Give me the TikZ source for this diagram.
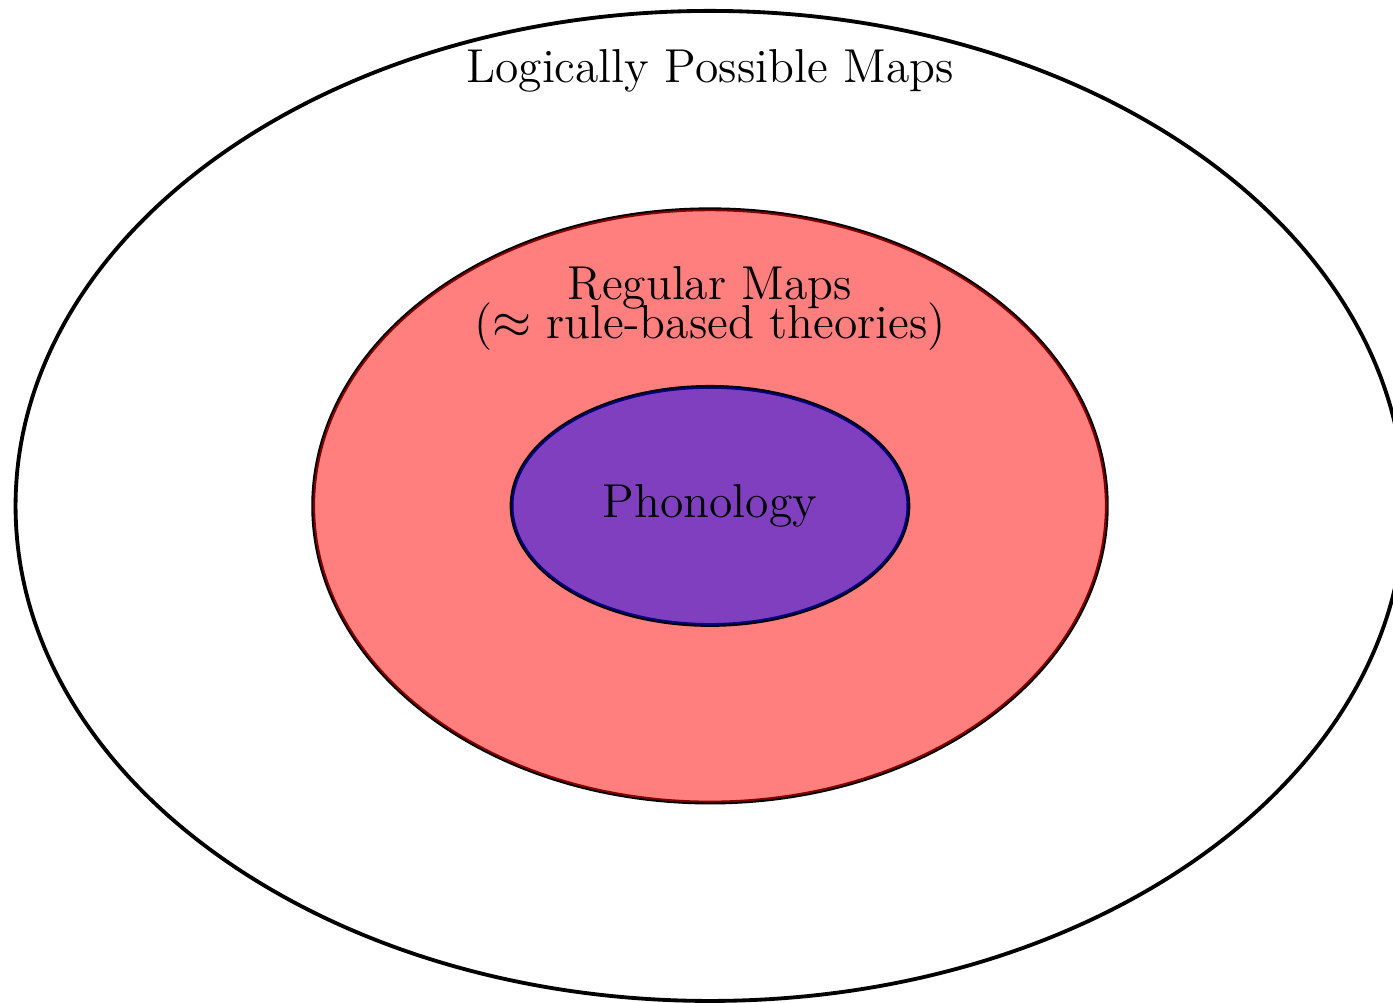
\documentclass[tikz,border=0pt]{standalone}
\begin{document}
\begin{tikzpicture}
\useasboundingbox (-7.157,-5.01) rectangle (6.885,5.10);
\tikzset{
  ring/.style={draw=black, line width=1.1pt},
  lbl/.style={font=\fontsize{13.65pt}{16pt}\selectfont, anchor=base, inner sep=0pt}
}
\draw[ring] (0,0) ellipse (7cm and 4.99cm);
\draw[ring] (0,0) ellipse (4cm and 2.99cm);
\fill[red, opacity=0.5] (0,0) ellipse (4cm and 2.99cm);
\draw[ring] (0,0) ellipse (2cm and 1.2cm);
\fill[blue, opacity=0.5] (0,0) ellipse (2cm and 1.2cm);
\node[lbl] (outer) at (0,4.267) {Logically Possible Maps};
\node[lbl] (reg) at (0,2.077) {Regular Maps};
\node[lbl] (reg2) at (0,1.683) {($\approx$ rule-based theories)};
\node[lbl] (phon) at (0,-0.121) {Phonology};
\end{tikzpicture}
\end{document}
